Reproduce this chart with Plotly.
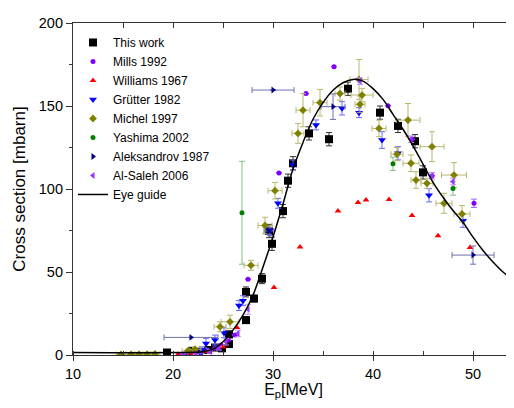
import plotly.graph_objects as go

# This work
tw_x = [19.4, 21.9, 22.6, 23.5, 24.2, 24.9, 25.6, 25.6, 27.3, 27.3, 28.1, 28.9, 29.6, 29.9, 31.0, 31.5, 32.0, 33.6, 35.6, 37.5, 40.7, 42.5, 44.2, 45.0]
tw_y = [1.5, 2.5, 2.0, 3.0, 4.5, 4.0, 12.4, 6.6, 21.0, 38.0, 34.0, 46.0, 74.7, 67.0, 86.7, 105.0, 115.5, 133.5, 130.0, 160.4, 146.0, 138.0, 128.8, 110.0]
tw_err = [1, 1, 1, 1, 1, 1, 2, 1, 2, 3, 2, 3, 4, 4, 4, 4, 4, 4, 4, 4, 4, 4, 4, 4]

# Mills 1992
mi_x = [20.6, 21.3, 22.0, 22.8, 23.5, 24.2, 24.8, 25.5, 26.2, 27.5, 30.6, 33.3, 36.1, 41.5, 43.9, 45.9, 50.1]
mi_y = [0.2, 0.5, 1.0, 1.5, 2.5, 4.0, 6.0, 9.0, 12.0, 45.6, 109.7, 157.5, 173.7, 150.2, 130.0, 108.0, 91.4]
mi_err = [0, 0, 0, 0, 0, 0, 0, 0, 0, 0, 0, 0, 0, 0, 0, 0, 2.5]

# Williams 1967
wi_x = [20.5, 22.0, 23.5, 25.0, 26.4, 30.1, 32.7, 36.5, 38.5, 39.3, 41.6, 43.9, 46.5, 49.7]
wi_y = [0.3, 1.0, 2.0, 5.0, 16.6, 40.7, 65.0, 86.7, 91.8, 93.4, 93.6, 84.0, 71.9, 64.8]

# Grütter 1982
gr_x = [22.9, 23.3, 24.2, 25.1, 26.6, 27.0, 29.7, 30.5, 32.0, 34.3, 36.9, 38.6, 40.9, 42.5, 45.6, 49.0]
gr_y = [3.0, 7.0, 9.0, 13.4, 29.8, 32.7, 75.0, 91.4, 114.5, 138.6, 148.6, 146.0, 129.5, 121.5, 96.2, 80.9]
gr_err = [2, 3, 3, 3, 3, 3, 3, 3, 3, 3, 4, 3, 5, 4, 4, 4]

# Michel 1997
mc_x = [14.8, 15.8, 16.6, 17.4, 18.2, 21.5, 22.2, 24.7, 25.7, 27.8, 29.2, 30.2, 32.5, 33.0, 34.7, 36.7, 38.6, 38.7, 38.9, 40.6, 42.4, 43.5, 43.8, 44.3, 45.4, 45.9, 47.1, 48.1, 48.9]
mc_y = [0.3, 0.4, 0.5, 0.5, 0.6, 2.5, 3.5, 17.0, 20.0, 54.0, 78.0, 99.0, 133.5, 147.5, 152.0, 157.5, 166.0, 151.0, 156.6, 136.5, 121.0, 141.5, 115.5, 105.4, 103.4, 125.5, 91.4, 108.4, 85.0]
mc_xerr = [0.5, 0.5, 0.5, 0.5, 0.5, 0.6, 0.6, 0.6, 0.9, 0.7, 0.7, 0.7, 0.6, 0.7, 0.7, 0.5, 0.9, 0.5, 1.1, 0.7, 0.6, 1.2, 0.8, 0.5, 0.6, 1.2, 0.8, 1.25, 0.8]
mc_yerr = [0.3, 0.3, 0.3, 0.3, 0.3, 1, 1, 3, 4, 3, 5, 5, 6, 10, 8, 4, 12, 5, 4, 5, 4, 10, 5, 5, 3, 9, 6, 7.5, 5]

# Yashima 2002
ya_x = [26.9, 42.0, 48.0]
ya_y = [85.7, 115.2, 100.3]
ya_err = [31, 4, 4]

# Aleksandrov 1987
al_x = [21.8, 29.6, 30.0, 36.0, 50.0]
al_y = [10.6, 74.7, 159.6, 149.6, 60.2]
al_xerr = [2.7, 0.5, 2.1, 1.2, 2.1]
al_yerr = [0, 2, 0, 7.7, 5.5]

# Al-Saleh 2006
as_x = [21.0, 22.3, 23.7, 24.6, 25.3, 26.5, 27.5, 38.7, 43.8, 45.9, 48.0]
as_y = [0.3, 0.8, 2.0, 4.0, 8.0, 13.0, 27.5, 165.0, 130.0, 108.0, 104.5]
as_err = [0.5, 0.5, 1, 1, 2, 2, 3, 2, 2, 2, 2]

# Eye guide
eg_x = [10, 22, 23, 24, 25, 26, 27, 28, 29, 30, 31, 32, 33, 34, 35, 36, 37, 38, 39, 40, 41, 42, 43, 44, 45, 46, 47, 48, 49, 50, 51, 52, 53, 54.5]
eg_y = [1.5, 1.6, 2.0, 3.5, 8, 15, 24, 36, 53, 71, 91, 112, 128, 142, 152, 159.5, 164, 166, 165, 160.5, 154, 145, 136, 126, 115, 104, 95, 87, 80, 71, 63, 56, 50, 43]

fig = go.Figure()


def eb(arr, color):
    return dict(type='data', array=arr, visible=True, color=color, thickness=1, width=3)


fig.add_trace(go.Scatter(x=tw_x, y=tw_y, mode='markers', name='This work',
                         marker=dict(symbol='square', size=8, color='black'),
                         error_y=eb(tw_err, '#333333')))
fig.add_trace(go.Scatter(x=mi_x, y=mi_y, mode='markers', name='Mills 1992',
                         marker=dict(symbol='circle', size=5, color='#8000ff'),
                         error_y=eb(mi_err, '#a060ff')))
fig.add_trace(go.Scatter(x=wi_x, y=wi_y, mode='markers', name='Williams 1967',
                         marker=dict(symbol='triangle-up', size=6, color='#ff0000')))
fig.add_trace(go.Scatter(x=gr_x, y=gr_y, mode='markers', name='Grütter 1982',
                         marker=dict(symbol='triangle-down', size=7, color='#0000ff'),
                         error_y=eb(gr_err, '#6a6aff')))
fig.add_trace(go.Scatter(x=mc_x, y=mc_y, mode='markers', name='Michel 1997',
                         marker=dict(symbol='diamond', size=6, color='#808000'),
                         error_x=eb(mc_xerr, '#b8b870'), error_y=eb(mc_yerr, '#b8b870')))
fig.add_trace(go.Scatter(x=ya_x, y=ya_y, mode='markers', name='Yashima 2002',
                         marker=dict(symbol='circle', size=5, color='#008000'),
                         error_y=eb(ya_err, '#80c080')))
fig.add_trace(go.Scatter(x=al_x, y=al_y, mode='markers', name='Aleksandrov 1987',
                         marker=dict(symbol='triangle-right', size=6, color='#000080'),
                         error_x=eb(al_xerr, '#7070b0'), error_y=eb(al_yerr, '#7070b0')))
fig.add_trace(go.Scatter(x=as_x, y=as_y, mode='markers', name='Al-Saleh 2006',
                         marker=dict(symbol='triangle-left', size=6, color='#9933ff'),
                         error_y=eb(as_err, '#c090ff')))
fig.add_trace(go.Scatter(x=eg_x, y=eg_y, mode='lines', name='Eye guide',
                         line=dict(color='black', width=1.5, shape='spline')))

# invisible trace for the top axis ticks
fig.add_trace(go.Scatter(x=[10, 54.1], y=[0, 0], xaxis='x2', mode='markers',
                         marker=dict(opacity=0), showlegend=False, hoverinfo='skip'))

fig.update_layout(
    width=506, height=392,
    margin=dict(l=65, r=0, t=15, b=45, autoexpand=False),
    plot_bgcolor='white', paper_bgcolor='white',
    font=dict(family='Liberation Sans, Arial', size=14.5, color='black'),
    showlegend=True,
    legend=dict(x=0.0, y=0.985, xanchor='left', yanchor='top', bgcolor='rgba(0,0,0,0)',
                font=dict(size=12), itemwidth=30, tracegroupgap=0),
    xaxis=dict(range=[10, 54.1], dtick=10, showgrid=False, zeroline=False, automargin=False,
               showline=True, linecolor='#333333', linewidth=1.2,
               ticks='outside', ticklen=5, tickcolor='#333333',
               minor=dict(dtick=5, ticks='inside', ticklen=4, tickcolor='#333333'),
               title=dict(text='E<sub>p</sub>[MeV]', font=dict(size=16), standoff=8)),
    xaxis2=dict(range=[10, 54.1], overlaying='x', side='top', dtick=5, showgrid=False,
                automargin=False,
                zeroline=False, showline=True, linecolor='#333333', linewidth=1.2,
                ticks='inside', ticklen=5, tickcolor='#333333', showticklabels=False),
    yaxis=dict(range=[0, 200], dtick=50, showgrid=False, zeroline=False, automargin=False,
               showline=True, linecolor='#333333', linewidth=1.2,
               ticks='outside', ticklen=6, tickcolor='#333333',
               minor=dict(dtick=25, ticks='outside', ticklen=3, tickcolor='#333333'),
               title=dict(text='Cross section [mbarn]', font=dict(size=17), standoff=8)),
)

fig.write_html("out.html")
